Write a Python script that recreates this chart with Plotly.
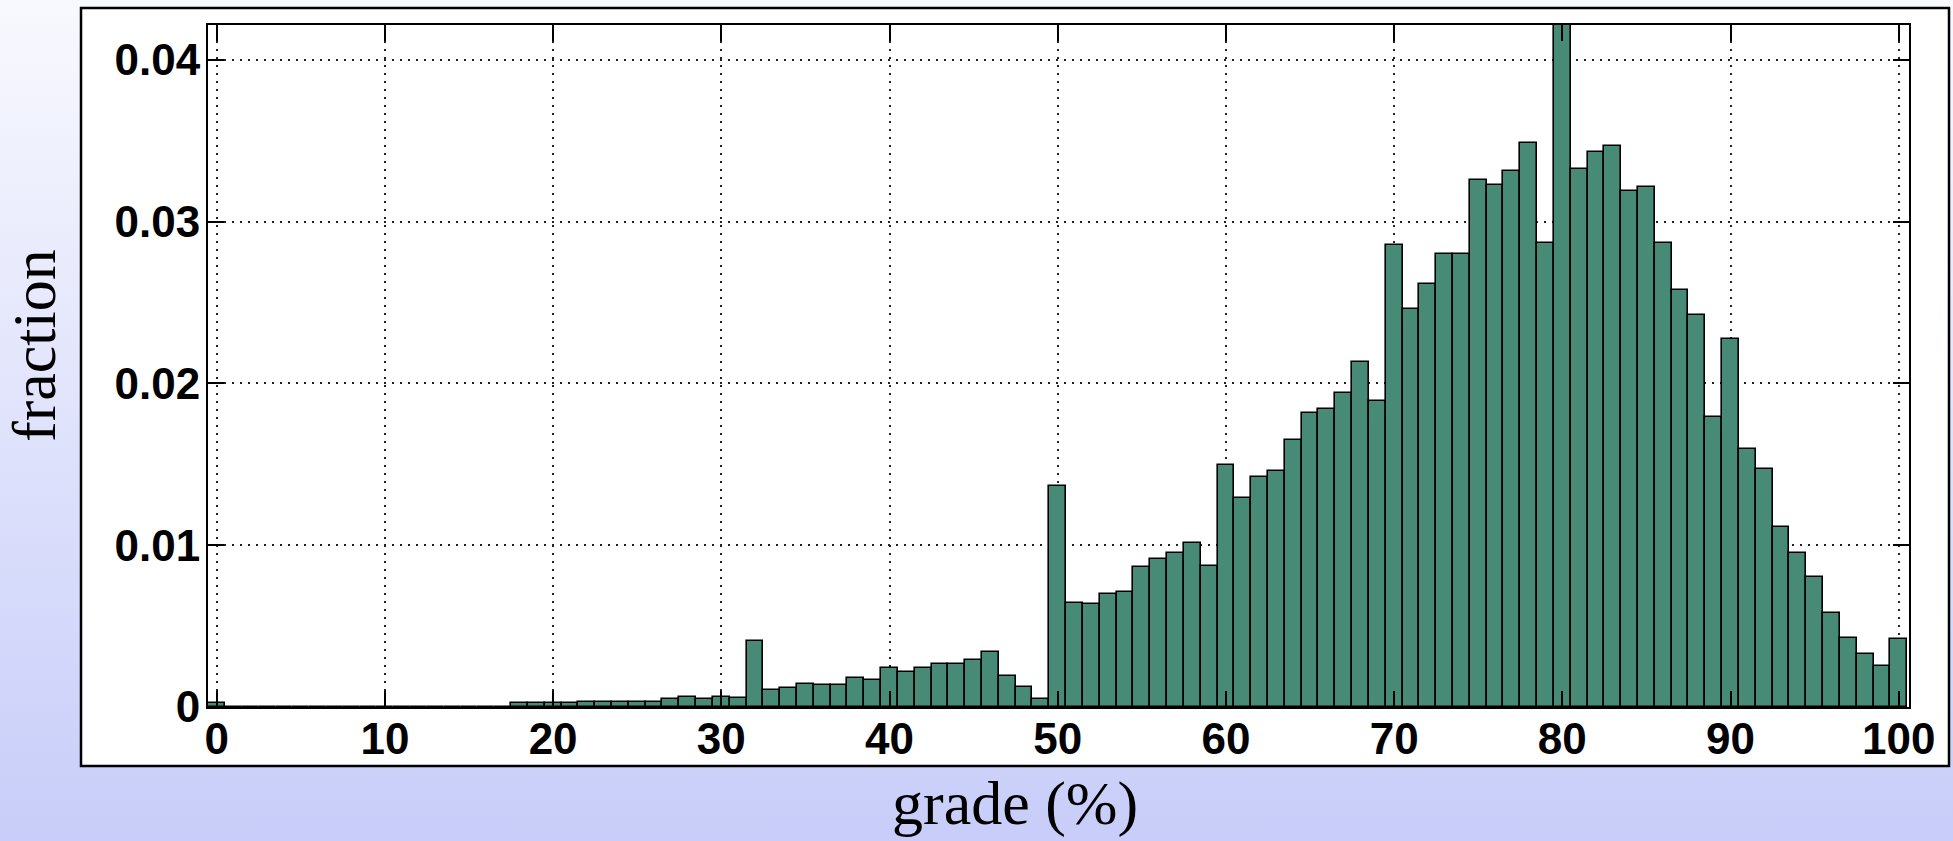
import base64
import plotly.graph_objects as go

# ---- data ----
grades = list(range(0, 101))
fractions = [
    0.00023, 0, 0, 0, 0, 0, 0, 0, 0, 0,                                            # 0-9
    0, 0, 0, 0, 0, 0, 0, 0, 0.00025, 0.00025,                                      # 10-19
    0.00025, 0.00025, 0.00033, 0.00033, 0.00033, 0.00033, 0.00033, 0.00051, 0.00064, 0.00049,  # 20-29
    0.00064, 0.00058, 0.00408, 0.00105, 0.00115, 0.00142, 0.00136, 0.00136, 0.00179, 0.00167,  # 30-39
    0.00239, 0.00216, 0.00239, 0.00268, 0.00268, 0.00291, 0.00342, 0.00192, 0.00126, 0.00047,  # 40-49
    0.01368, 0.00645, 0.00635, 0.00699, 0.00709, 0.00863, 0.00913, 0.00950, 0.01016, 0.00874,  # 50-59
    0.01498, 0.01294, 0.01422, 0.01459, 0.01651, 0.01816, 0.01840, 0.01943, 0.02131, 0.01892,  # 60-69
    0.02854, 0.02463, 0.02615, 0.02803, 0.02803, 0.03260, 0.03227, 0.03312, 0.03489, 0.02867,  # 70-79
    0.04420, 0.03324, 0.03429, 0.03466, 0.03188, 0.03213, 0.02871, 0.02578, 0.02426, 0.01793,  # 80-89
    0.02273, 0.01597, 0.01469, 0.01115, 0.00950, 0.00802, 0.00583, 0.00429, 0.00328, 0.00251,  # 90-99
    0.00418,                                                                       # 100
]
x_tickvals = [0, 10, 20, 30, 40, 50, 60, 70, 80, 90, 100]
y_tickvals = [0, 0.01, 0.02, 0.03, 0.04]
y_ticktext = ["0", "0.01", "0.02", "0.03", "0.04"]
x_label = "grade (%)"
y_label = "fraction"

# ---- layout geometry (pixels) ----
W, H = 1953, 841
PL, PR, PT, PB = 208, 1909, 25, 707          # plot area edges
pw, ph = PR - PL, PB - PT


def px_x(px):
    return (px - PL) / pw


def px_y(py):
    return (PB - py) / ph


bar_color = "#478b76"
tick_font = dict(family="Liberation Sans, Arial, sans-serif", size=44, color="black", weight="bold")
title_font = dict(family="Liberation Serif, Times New Roman, serif", size=62, color="black")

fig = go.Figure()
fig.add_trace(go.Bar(
    x=grades, y=fractions, width=1.0,
    marker=dict(color=bar_color, line=dict(color="black", width=1.6)),
    hoverinfo="x+y",
))

# gradient background as an svg image
svg = ('<svg xmlns="http://www.w3.org/2000/svg" width="100" height="100" preserveAspectRatio="none">'
       '<defs><linearGradient id="g" x1="0" y1="0" x2="0" y2="1">'
       '<stop offset="0" stop-color="#f8f9fe"/><stop offset="1" stop-color="#c8cdf9"/>'
       '</linearGradient></defs><rect width="100" height="100" fill="url(#g)"/></svg>')
src = "data:image/svg+xml;base64," + base64.b64encode(svg.encode()).decode()

fig.update_layout(
    width=W, height=H,
    margin=dict(l=PL, r=W - PR, t=PT, b=H - PB, pad=0),
    paper_bgcolor="#e2e5fb",
    plot_bgcolor="white",
    bargap=0,
    showlegend=False,
    images=[dict(source=src, xref="paper", yref="paper",
                 x=px_x(0), y=px_y(0), sizex=W / pw, sizey=H / ph,
                 xanchor="left", yanchor="top", sizing="stretch", layer="below")],
    shapes=[dict(type="rect", xref="paper", yref="paper",
                 x0=px_x(81), x1=px_x(1949), y0=px_y(766), y1=px_y(8),
                 fillcolor="white", line=dict(color="black", width=2.5), layer="below")],
    annotations=[
        dict(text=x_label, xref="paper", yref="paper", x=px_x(1015), y=px_y(803),
             xanchor="center", yanchor="middle", showarrow=False, font=title_font),
        dict(text=y_label, xref="paper", yref="paper", x=px_x(34), y=px_y(346),
             xanchor="center", yanchor="middle", showarrow=False, font=title_font, textangle=-90),
    ],
)

grid_common = dict(
    showgrid=True, gridcolor="#222222", gridwidth=2, griddash="2px,6px",
    showline=True, linecolor="black", linewidth=2, mirror="ticks",
    ticks="inside", ticklen=16, tickwidth=2, tickcolor="black",
    tickfont=tick_font, zeroline=False, fixedrange=True,
)
fig.update_xaxes(
    range=[-0.517, 100.61], tickvals=x_tickvals, ticktext=[str(v) for v in x_tickvals],
    ticklabelstandoff=-8, **grid_common,
)
fig.update_yaxes(
    range=[0, 0.04216], tickvals=y_tickvals, ticktext=y_ticktext,
    ticklabelstandoff=-3, **grid_common,
)

fig.write_html(
    "out.html",
    config={"displayModeBar": False},
    post_script="document.body.style.margin='0';document.body.style.padding='0';",
)
